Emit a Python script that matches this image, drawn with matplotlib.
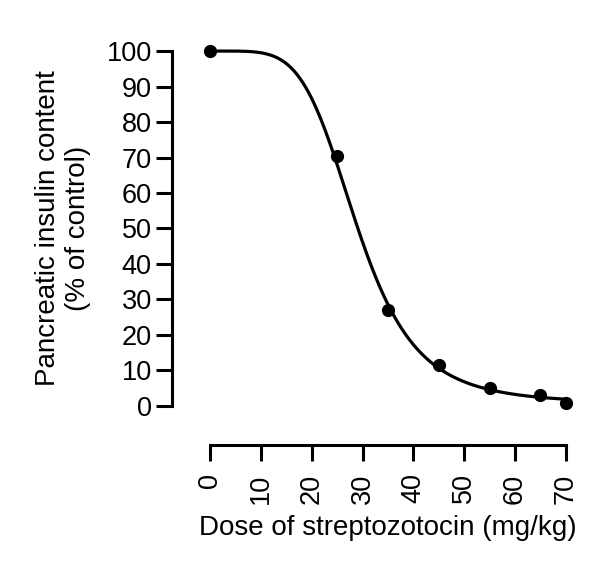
import numpy as np
import matplotlib.pyplot as plt

plt.rcParams['font.family'] = ['Liberation Sans', 'DejaVu Sans']

# measured points
dose = [0, 25, 35, 45, 55, 65, 70]
insulin = [100, 70.4, 27.0, 11.5, 5.0, 3.1, 0.8]

# fitted dose-response curve parameters
top = 100.0
bottom = 0.7
ec50 = 29.0
hill = 5.0

x_ticks = [0, 10, 20, 30, 40, 50, 60, 70]
y_ticks = [0, 10, 20, 30, 40, 50, 60, 70, 80, 90, 100]

xs = np.linspace(0, 70, 400)
fit = bottom + (top - bottom) / (1 + (xs / ec50) ** hill)

fig = plt.figure(figsize=(6.06, 5.62), dpi=100)
ax = fig.add_axes([172 / 606, 117 / 562, 403 / 606, 400 / 562])

ax.plot(xs, fit, color='black', lw=2.3, zorder=2)
ax.plot(dose, insulin, 'o', color='black', ms=8.5, zorder=3, clip_on=False)

ax.set_xlim(-7.5, 71.8)
ax.set_ylim(-11, 101.7)

for s in ['top', 'right']:
    ax.spines[s].set_visible(False)
ax.spines['left'].set_bounds(0, 100)
ax.spines['bottom'].set_bounds(0, 70)
ax.spines['left'].set_linewidth(2.2)
ax.spines['bottom'].set_linewidth(2.2)

ax.set_xticks(x_ticks)
ax.set_yticks(y_ticks)
ax.set_xticklabels([str(t) for t in x_ticks], rotation=90)
ax.tick_params(axis='both', width=2.2, length=11.5, labelsize=19.5, color='black')
ax.tick_params(axis='x', pad=9)
ax.tick_params(axis='y', pad=3)

ax.set_xlabel('Dose of streptozotocin (mg/kg)', fontsize=20, labelpad=8)
ax.set_ylabel('Pancreatic insulin content\n(% of control)', fontsize=20, labelpad=11)
ax.xaxis.label.set_x(0.536)
ax.yaxis.label.set_y(0.5425)

fig.savefig('out.png', dpi=100)
